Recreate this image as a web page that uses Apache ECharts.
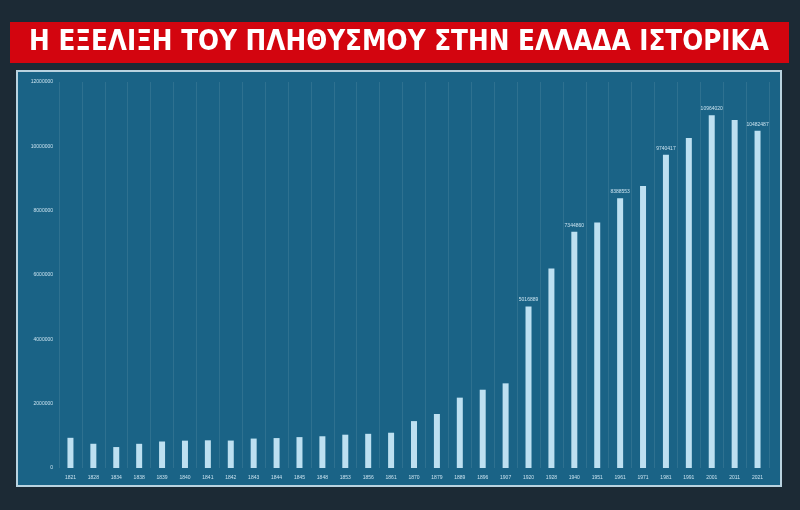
<!DOCTYPE html>
<html><head><meta charset="utf-8">
<script src="https://cdn.jsdelivr.net/npm/echarts@6/dist/echarts.min.js"></script>
<style>html,body{margin:0;padding:0;background:#1c2a35;}#c{width:800px;height:510px;}</style>
</head><body><div id="c"></div>
<script>
const titleText = 'Η ΕΞΕΛΙΞΗ ΤΟΥ ΠΛΗΘΥΣΜΟΥ ΣΤΗΝ ΕΛΛΑΔΑ ΙΣΤΟΡΙΚΑ';
const years = ['1821','1828','1834','1838','1839','1840','1841','1842','1843','1844','1845','1848','1853','1856','1861','1870','1879','1889','1896','1907','1920','1928','1940','1951','1961','1971','1981','1991','2001','2011','2021'];
const population = [938765,753400,651233,752077,823773,850246,861019,853005,915059,930295,960236,986731,1035527,1062627,1096810,1457894,1679470,2187208,2433806,2631952,5016889,6204684,7344860,7632801,8388553,8768372,9740417,10259900,10964020,10816286,10482487];
const labeledYears = ['1920','1940','1961','1981','2001','2021'];
const yTicks = [0,2000000,4000000,6000000,8000000,10000000,12000000];

const chart = echarts.init(document.getElementById('c'));
chart.setOption({
  backgroundColor: '#1c2a35',
  animation: false,
  graphic: [
    {type:'rect', shape:{x:10,y:22,width:779,height:41}, style:{fill:'#d3050f'}, z:0},
    {type:'rect', shape:{x:17,y:71,width:764,height:415}, style:{fill:'#1a6386', stroke:'#b9d3e0', lineWidth:2}, z:0},
    {type:'text', x:399, y:43, style:{text:titleText, fill:'#ffffff', font:'bold 27.5px "Liberation Sans Narrow","DejaVu Sans Condensed",sans-serif', textAlign:'center', textVerticalAlign:'middle'}, z:5}
  ],
  grid: {left:59, right:31, top:82, bottom:42},
  xAxis: {
    type:'category', data: years,
    axisLine:{show:false}, axisTick:{show:false},
    splitLine:{show:true, lineStyle:{color:'rgba(255,255,255,0.09)', width:1}},
    axisLabel:{color:'#c9e2ef', fontSize:5, margin:7, interval:0}
  },
  yAxis: {
    type:'value', min:yTicks[0], max:yTicks[yTicks.length-1], interval:yTicks[1]-yTicks[0],
    axisLine:{show:false}, axisTick:{show:false}, splitLine:{show:false},
    axisLabel:{color:'#c9e2ef', fontSize:5, margin:6, formatter: v => String(v)}
  },
  series: [{
    type:'bar', barWidth:6,
    itemStyle:{color:'#bde0f1'},
    data: population.map((v,i)=>({
      value:v,
      label:{show: labeledYears.includes(years[i]), position:'top', color:'#c9e2ef', fontSize:5, distance:4}
    }))
  }]
});
</script></body></html>
